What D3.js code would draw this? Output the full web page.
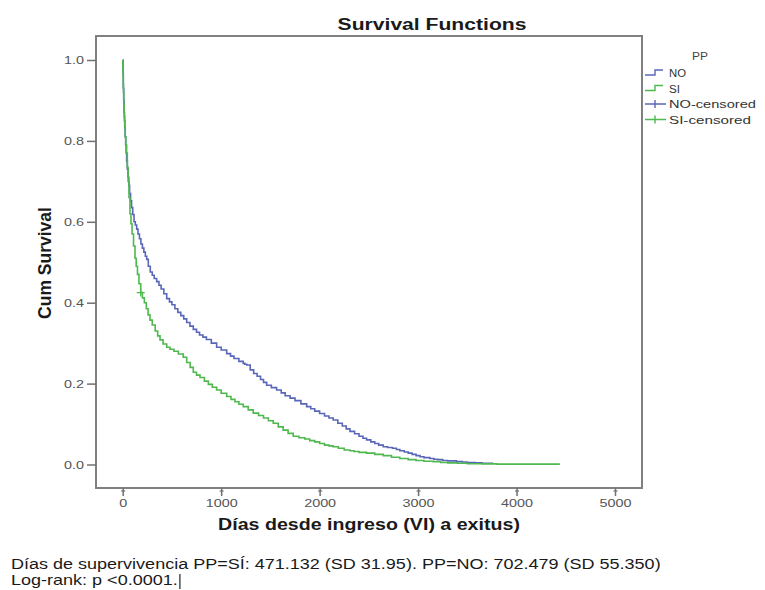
<!DOCTYPE html>
<html><head><meta charset="utf-8">
<script src="https://cdn.jsdelivr.net/npm/d3@7"></script>
<style>body{margin:0;background:#fff;} text{font-family:"Liberation Sans",Arial,sans-serif;}</style>
</head><body>
<svg id="c" width="765" height="590"></svg>
<script>
const xTicks = [0, 1000, 2000, 3000, 4000, 5000];
const yTicks = [0, 0.2, 0.4, 0.6, 0.8, 1.0];
const legendLabels = ["NO", "SI", "NO-censored", "SI-censored"];
const noTimes = [0,3,6,10,14,18,22,26,30,35,40,47,55,62,70,80,90,102,115,128,142,155,170,185,200,215,230,244,260,280,300,320,345,368,390,418,447,475,500,530,560,590,620,650,683,717,750,780,815,850,900,954,1000,1056,1095,1130,1180,1224,1240,1260,1295,1330,1365,1400,1430,1462,1510,1563,1610,1650,1700,1750,1810,1868,1910,1950,2000,2050,2095,2138,2185,2230,2270,2308,2355,2400,2440,2477,2520,2560,2600,2646,2690,2740,2780,2815,2860,2900,2940,2980,3020,3060,3120,3160,3200,3250,3300,3390,3450,3500,3580,3650,3763];
const noSurv  = [1.0,0.97,0.93,0.90,0.87,0.85,0.83,0.81,0.79,0.77,0.75,0.73,0.71,0.69,0.67,0.652,0.635,0.618,0.60,0.592,0.582,0.57,0.558,0.545,0.535,0.525,0.515,0.507,0.49,0.476,0.468,0.46,0.452,0.443,0.434,0.422,0.41,0.402,0.395,0.385,0.376,0.368,0.36,0.351,0.342,0.334,0.327,0.32,0.315,0.309,0.30,0.29,0.283,0.274,0.268,0.262,0.255,0.25,0.248,0.246,0.234,0.225,0.218,0.21,0.203,0.196,0.19,0.184,0.177,0.17,0.164,0.158,0.15,0.143,0.138,0.132,0.126,0.12,0.115,0.11,0.102,0.095,0.088,0.082,0.076,0.07,0.065,0.061,0.056,0.052,0.048,0.044,0.042,0.04,0.037,0.034,0.031,0.028,0.025,0.022,0.019,0.017,0.015,0.013,0.012,0.010,0.009,0.007,0.006,0.005,0.004,0.003,0.003];
const siTimes = [0,2,4,6,8,11,15,20,25,32,40,47,55,64,74,84,95,110,125,137,150,165,183,200,220,240,258,277,300,330,355,379,410,447,480,520,565,615,650,685,717,750,785,830,870,910,954,1000,1056,1100,1140,1180,1224,1275,1326,1380,1430,1480,1529,1580,1630,1680,1732,1790,1850,1900,1950,2000,2050,2095,2138,2190,2250,2308,2350,2400,2477,2560,2646,2730,2815,2900,2980,3060,3154,3230,3300,3400,3500,3650,3800,4440];
const siSurv  = [1.0,0.98,0.96,0.94,0.92,0.89,0.86,0.835,0.81,0.79,0.77,0.735,0.70,0.66,0.62,0.595,0.57,0.54,0.51,0.49,0.47,0.447,0.425,0.412,0.40,0.385,0.37,0.357,0.345,0.33,0.318,0.308,0.298,0.29,0.285,0.28,0.273,0.265,0.252,0.24,0.228,0.221,0.215,0.206,0.198,0.191,0.184,0.176,0.168,0.161,0.155,0.149,0.143,0.135,0.127,0.121,0.115,0.108,0.102,0.093,0.085,0.077,0.07,0.066,0.063,0.059,0.056,0.052,0.048,0.046,0.044,0.04,0.036,0.034,0.032,0.03,0.028,0.025,0.022,0.018,0.015,0.012,0.01,0.008,0.007,0.005,0.004,0.003,0.002,0.0015,0.001,0.001];
const siCensorTimes = [183];
const siCensorSurv = [0.425];
const footLines = ["Días de supervivencia PP=SÍ: 471.132 (SD 31.95). PP=NO: 702.479 (SD 55.350)", "Log-rank: p <0.0001."];

const colors = {NO: "#5a67b8", SI: "#4fb84f"};
const svg = d3.select("#c");
const frame = {l: 96, r: 642, t: 36, b: 488};
const x = d3.scaleLinear().domain([0, 5000]).range([122.7, 615]);
const y = d3.scaleLinear().domain([0, 1]).range([464.5, 60]);
const K = 1.25; // horizontal stretch of the reference's lettering

svg.append("rect").attr("x", frame.l).attr("y", frame.t).attr("width", frame.r - frame.l).attr("height", frame.b - frame.t)
  .attr("fill", "#fff").attr("stroke", "#808080").attr("stroke-width", 2);

// axes
const yAxis = svg.append("g").attr("transform", `translate(${frame.l},0)`)
  .call(d3.axisLeft(y).tickValues(yTicks).tickFormat(d3.format(".1f")).tickSize(9).tickPadding(3));
const xAxis = svg.append("g").attr("transform", `translate(0,${frame.b})`)
  .call(d3.axisBottom(x).tickValues(xTicks).tickFormat(d3.format("d")).tickSize(8).tickPadding(3));
[yAxis, xAxis].forEach(g => {
  g.select(".domain").remove();
  g.selectAll(".tick line").attr("stroke", "#707070").attr("stroke-width", 1.5);
  g.selectAll(".tick text").attr("fill", "#555").style("font-size", "11.5px").style("font-family", "Liberation Sans, Arial, sans-serif");
});
yAxis.selectAll(".tick text").attr("x", -12 / K).attr("transform", `scale(${K},1)`);
xAxis.selectAll(".tick text").attr("transform", `scale(${K},1)`);
xAxis.selectAll(".tick").append("line").attr("x1", -2).attr("x2", 2).attr("y1", 3).attr("y2", 3).attr("stroke", "#707070").attr("stroke-width", 1.2);

// curves
const line = d3.line().x(d => x(d[0])).y(d => y(d[1])).curve(d3.curveStepAfter);
const noData = noTimes.map((t, i) => [t, noSurv[i]]);
const siData = siTimes.map((t, i) => [t, siSurv[i]]);
svg.append("path").datum(noData).attr("d", line).attr("fill", "none").attr("stroke", colors.NO).attr("stroke-width", 1.6);
svg.append("path").datum(siData).attr("d", line).attr("fill", "none").attr("stroke", colors.SI).attr("stroke-width", 1.6);
siCensorTimes.forEach((t, i) => {
  const cx = x(t), cy = y(siCensorSurv[i]);
  svg.append("path").attr("d", `M${cx-4},${cy}H${cx+4}M${cx},${cy-4}V${cy+4}`).attr("stroke", colors.SI).attr("stroke-width", 1.3).attr("fill", "none");
});

// helper: stretch text horizontally to a target width
function fitted(parent, str, size, weight, tx, ty, anchor, width) {
  const t = parent.append("text").attr("x", 0).attr("y", 0).attr("text-anchor", anchor)
    .style("font-size", size + "px").style("font-weight", weight).attr("fill", "#1a1a1a").text(str);
  const k = width / t.node().getComputedTextLength();
  t.attr("transform", `translate(${tx},${ty}) scale(${k},1)`);
  return t;
}

// titles
fitted(svg, "Survival Functions", 17, "bold", 432, 30, "middle", 189);
svg.append("text").attr("transform", "translate(51,263) rotate(-90)").attr("text-anchor", "middle").style("font-weight", "bold").style("font-size", "17.5px").attr("fill", "#1a1a1a").text("Cum Survival");
fitted(svg, "Días desde ingreso (VI) a exitus)", 16, "bold", 369, 530, "middle", 302);

// legend
const lg = svg.append("g");
fitted(lg, "PP", 11.5, "normal", 700, 60, "middle", 16).attr("fill", "#444");
legendLabels.forEach((lab, i) => {
  const yy = 73 + i * 15.5;
  const col = i % 2 === 0 ? colors.NO : colors.SI;
  if (i < 2) {
    lg.append("path").attr("d", `M645,${yy+2}H655V${yy-3}H663`).attr("fill", "none").attr("stroke", col).attr("stroke-width", 1.4);
  } else {
    lg.append("path").attr("d", `M645,${yy}H666M655,${yy-4}V${yy+4}`).attr("fill", "none").attr("stroke", col).attr("stroke-width", 1.4);
  }
  const w = {"NO": 17, "SI": 11, "NO-censored": 87, "SI-censored": 82}[lab];
  fitted(lg, lab, 11.5, "normal", 669, yy + 4, "start", w).attr("fill", "#333");
});

// footnote
const f1 = fitted(svg, footLines[0], 14, "normal", 11, 569, "start", 650);
const k1 = 650 / f1.node().getComputedTextLength();
const f2 = svg.append("text").attr("x", 0).attr("y", 0).style("font-size", "14px").attr("fill", "#1a1a1a").text(footLines[1]);
const w2 = f2.node().getComputedTextLength() * k1;
f2.attr("transform", `translate(11,585) scale(${k1},1)`);
svg.append("line").attr("x1", 11 + w2 + 2).attr("x2", 11 + w2 + 2).attr("y1", 574).attr("y2", 589).attr("stroke", "#222").attr("stroke-width", 1.2);
</script>
</body></html>
